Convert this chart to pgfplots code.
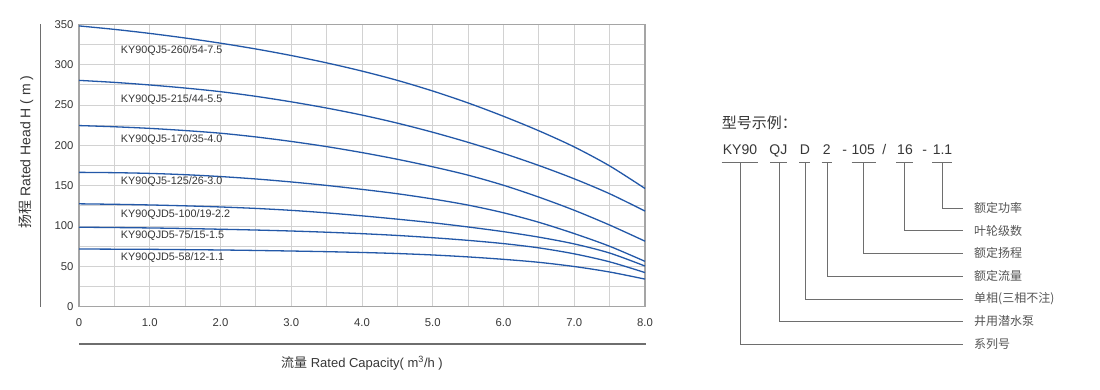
\documentclass[border=0pt]{standalone}
\usepackage{pgfplots}
\usepackage{pgfplotstable}
\pgfplotsset{compat=1.18}
\usepackage{fontspec}
\setmainfont{Liberation Sans}
\newfontfamily\cjk{Noto Sans CJK SC}
\definecolor{curveblue}{RGB}{35,88,168}
\definecolor{gridgray}{RGB}{210,210,210}
\definecolor{framegray}{RGB}{165,165,165}
\definecolor{txtgray}{RGB}{55,55,55}
\definecolor{leadgray}{RGB}{110,110,110}

\pgfplotstableread{
x c1 c2 c3 c4 c5 c6 c7
0   348   280.5 224.5 166.5 127.5 98.5 71.5
0.5 343.7 278   223   166.1 126.9 98.1 71.3
1   338.7 274.8 221   165.2 126.1 97.6 71.1
1.5 333   271   218.3 163.6 125   96.9 70.7
2   326.6 266.5 215   161.3 123.6 96   70.3
2.5 319.4 260.7 210.4 158.3 121.8 95   69.7
3   311.3 253.9 204.8 154.6 119.4 93.8 69
3.5 302.2 246.2 198.4 150.3 116.3 92.3 68.2
4   292   237.5 191   145.4 112.6 90.5 67.2
4.5 280.5 227.5 182.7 140   108.5 88.3 65.9
5   267.3 216.2 173.4 133.5 104   85.5 64.1
5.5 252.5 203.7 163   125.9 98.8  82.2 61.7
6   236   190   150.5 116.4 93    78.2 58.7
6.5 218   175   135.8 104.6 86.2  72.9 55
7   198   158.5 119.5 90.6  77.8  65.5 49.8
7.5 174.5 140   101.2 74.9  66.5  55.6 43
8   146.5 118.5 81.2  56.2  50.4  42.3 34.2
}\pumpdata

\begin{document}
\begin{tikzpicture}
\path[use as bounding box] (0pt,0pt) rectangle (1100pt,390pt);
\fill[white] (0pt,0pt) rectangle (1100pt,390pt);
\begin{axis}[
  at={(79pt,83.3pt)}, anchor=south west,
  scale only axis, width=566pt, height=282.4pt,
  xmin=0, xmax=8, ymin=0, ymax=350,
  xtick={0,1,2,3,4,5,6,7,8},
  xticklabels={0,1.0,2.0,3.0,4.0,5.0,6.0,7.0,8.0},
  minor xtick={0.5,1.5,2.5,3.5,4.5,5.5,6.5,7.5},
  ytick={0,50,100,150,200,250,300,350},
  yticklabels={0,50,100,150,200,250,300,350},
  minor ytick={25,75,125,175,225,275,325},
  grid=both,
  major grid style={draw=gridgray, line width=0.9pt},
  minor grid style={draw=gridgray, line width=0.9pt},
  major tick length=0pt, minor tick length=0pt,
  axis line style={draw=framegray, line width=1.5pt},
  tick label style={font=\fontsize{11.3}{13}\selectfont, text=txtgray},
  xticklabel shift=8pt,
  yticklabel shift=2pt,
  clip=false,
]
\addplot[curveblue, line width=1.3pt, smooth] table[x=x, y=c1] {\pumpdata};
\addplot[curveblue, line width=1.3pt, smooth] table[x=x, y=c2] {\pumpdata};
\addplot[curveblue, line width=1.3pt, smooth] table[x=x, y=c3] {\pumpdata};
\addplot[curveblue, line width=1.3pt, smooth] table[x=x, y=c4] {\pumpdata};
\addplot[curveblue, line width=1.3pt, smooth] table[x=x, y=c5] {\pumpdata};
\addplot[curveblue, line width=1.3pt, smooth] table[x=x, y=c6] {\pumpdata};
\addplot[curveblue, line width=1.3pt, smooth] table[x=x, y=c7] {\pumpdata};
\begin{scope}[every node/.style={anchor=west, inner sep=0pt, font=\fontsize{10.8}{12}\selectfont, text=txtgray}]
\node at (axis cs:0.59,317) {KY90QJ5-260/54-7.5};
\node at (axis cs:0.59,257) {KY90QJ5-215/44-5.5};
\node at (axis cs:0.59,206.5) {KY90QJ5-170/35-4.0};
\node at (axis cs:0.59,155) {KY90QJ5-125/26-3.0};
\node at (axis cs:0.59,114.5) {KY90QJD5-100/19-2.2};
\node at (axis cs:0.59,88) {KY90QJD5-75/15-1.5};
\node at (axis cs:0.59,61) {KY90QJD5-58/12-1.1};
\end{scope}
\end{axis}

\begin{scope}[x=1pt, y=1pt]
% axis decorations
\node[rotate=90, font=\fontsize{14}{16}\selectfont, text=txtgray] at (26,238) {{\cjk 扬程} Rated Head H ( m )};
\draw[leadgray, line width=1pt] (40.7,83.3) -- (40.7,365.7);
\draw[leadgray, line width=1.2pt] (79,46) -- (646,46);
\node[font=\fontsize{13}{15}\selectfont, text=txtgray] at (362,27) {{\cjk 流量} Rated Capacity( m\textsuperscript{3}/h )};

% model example
\node[anchor=west, inner sep=0pt, font=\fontsize{15}{17}\cjk, text=txtgray] at (721.7,267.3) {型号示例：};
\begin{scope}[every node/.style={anchor=base, inner sep=0pt, font=\fontsize{14}{16}\selectfont, text=txtgray}]
\node at (740,235) {KY90};
\node at (778.3,235) {QJ};
\node at (805,235) {D};
\node at (826.7,235) {2};
\node at (844.7,235) {-};
\node at (863.3,235) {105};
\node at (884.2,235) {/};
\node at (905,235) {16};
\node at (924.7,235) {-};
\node at (942.5,235) {1.1};
\end{scope}
\begin{scope}[draw=leadgray, line width=0.9pt]
\draw (721.7,227.5) -- (758.3,227.5);
\draw (770,227.5) -- (787.3,227.5);
\draw (799,227.5) -- (810,227.5);
\draw (821.7,227.5) -- (832.3,227.5);
\draw (851.7,227.5) -- (875.7,227.5);
\draw (896,227.5) -- (913.3,227.5);
\draw (932.3,227.5) -- (952.3,227.5);
\draw (942.3,227.5) |- (963,181.7);
\draw (904.3,227.5) |- (963,159.3);
\draw (863.3,227.5) |- (963,136.7);
\draw (827.2,227.5) |- (963,114);
\draw (805,227.5) |- (963,91);
\draw (779,227.5) |- (963,69);
\draw (740,227.5) |- (963,46);
\end{scope}
\begin{scope}[every node/.style={anchor=west, inner sep=0pt, font=\fontsize{12}{14}\cjk, text=txtgray!85}]
\node at (974,181.7) {额定功率};
\node at (974,159.3) {叶轮级数};
\node at (974,136.7) {额定扬程};
\node at (974,114) {额定流量};
\node at (974,91) {单相(三相不注)};
\node at (974,69) {井用潜水泵};
\node at (974,46) {系列号};
\end{scope}
\end{scope}
\end{tikzpicture}
\end{document}
